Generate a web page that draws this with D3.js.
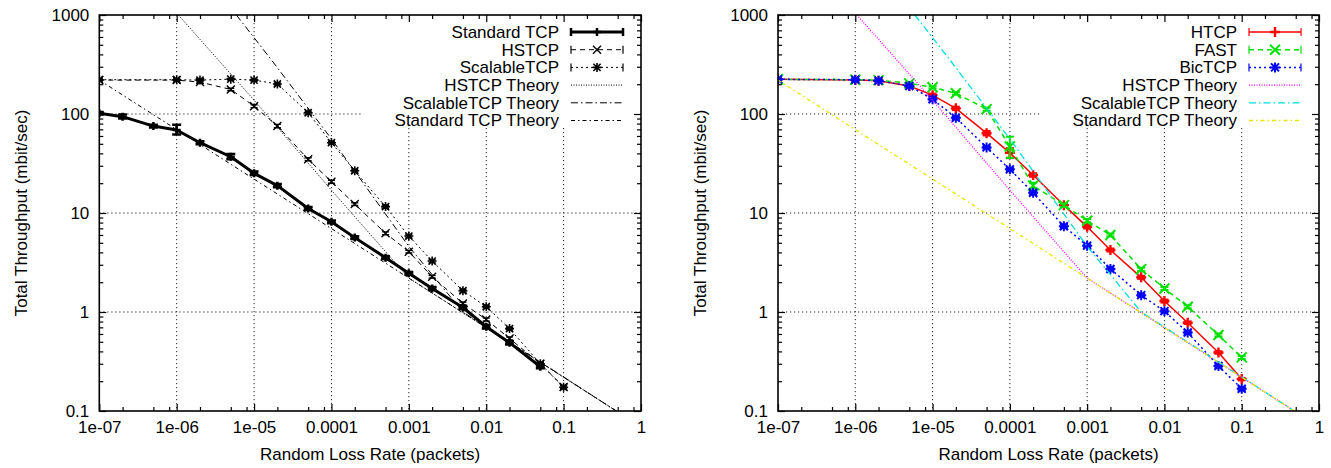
<!DOCTYPE html>
<html><head><meta charset="utf-8">
<script src="https://cdn.jsdelivr.net/npm/d3@7"></script>
<style>
body{margin:0;background:#fff;}
svg text{font-family:"Liberation Sans",Arial,Helvetica,sans-serif;fill:#000;}
</style></head><body>
<svg id="c" width="1331" height="468"></svg>
<script>
// ---------------- DATA ----------------
const xTickValues = [1e-7, 1e-6, 1e-5, 1e-4, 1e-3, 1e-2, 1e-1, 1];
const xTickLabels = ["1e-07", "1e-06", "1e-05", "0.0001", "0.001", "0.01", "0.1", "1"];
const yTickValues = [0.1, 1, 10, 100, 1000];
const yTickLabels = ["0.1", "1", "10", "100", "1000"];
const xMinorMult = [2, 5, 8];
const yMinorMult = [2, 3, 4, 5, 6, 7, 8, 9];

const xLabel = "Random Loss Rate (packets)";
const yLabel = "Total Throughput (mbit/sec)";

// left panel
const stdLoss = [1e-7, 2e-7, 5e-7, 1e-6, 2e-6, 5e-6, 1e-5, 2e-5, 5e-5, 1e-4, 2e-4, 5e-4, 1e-3, 2e-3, 5e-3, 1e-2, 2e-2, 5e-2];
const stdTcp   = [102, 94, 75.5, 69, 51.3, 37, 25.2, 18.9, 11.1, 8.15, 5.64, 3.54, 2.46, 1.73, 1.11, 0.71, 0.49, 0.28];
const stdTcpLo = [99, 90, 73, 62, 49.5, 35, 24.2, 18.2, 10.7, 7.9, 5.45, 3.42, 2.38, 1.67, 1.07, 0.68, 0.47, 0.27];
const stdTcpHi = [105, 99, 78, 78, 53, 39.5, 26.3, 19.6, 11.5, 8.4, 5.83, 3.66, 2.54, 1.79, 1.15, 0.74, 0.51, 0.29];

const hsLoss  = [1e-7, 1e-6, 2e-6, 5e-6, 1e-5, 2e-5, 5e-5, 1e-4, 2e-4, 5e-4, 1e-3, 2e-3, 5e-3, 1e-2, 2e-2, 5e-2, 1e-1];
const hstcp    = [220, 220, 210, 177, 120, 75.6, 34.9, 20.7, 12.3, 6.24, 4.07, 2.27, 1.22, 0.84, 0.54, 0.30, 0.175];
const hstcpErr = [5, 5, 5, 5, 4, 3, 1.2, 0.7, 0.4, 0.2, 0.12, 0.07, 0.04, 0.03, 0.02, 0.01, 0.006];
const scalable    = [222, 222, 220, 225, 220, 201, 103, 51.3, 26.7, 11.6, 5.85, 3.27, 1.64, 1.13, 0.68, 0.30, 0.174];
const scalableErr = [5, 5, 5, 5, 5, 5, 3, 1.5, 0.8, 0.4, 0.18, 0.1, 0.05, 0.03, 0.02, 0.01, 0.006];

// right panel
const rLoss = [1e-7, 1e-6, 2e-6, 5e-6, 1e-5, 2e-5, 5e-5, 1e-4, 2e-4, 5e-4, 1e-3, 2e-3, 5e-3, 1e-2, 2e-2, 5e-2, 1e-1];
const htcp    = [224, 220, 217, 192, 155, 114, 64, 40.5, 24.2, 12.0, 7.25, 4.23, 2.24, 1.29, 0.78, 0.39, 0.21];
const htcpLo  = [219, 215, 212, 187, 150, 110, 61, 36, 23.3, 11.6, 7.0, 4.1, 2.17, 1.25, 0.76, 0.38, 0.205];
const htcpHi  = [229, 225, 222, 197, 160, 118, 67, 45, 25.1, 12.4, 7.5, 4.36, 2.31, 1.33, 0.80, 0.40, 0.215];
const fast    = [224, 222, 220, 204, 186, 162, 112, 47, 18.9, 12.0, 8.36, 6.0, 2.7, 1.73, 1.13, 0.586, 0.348];
const fastLo  = [219, 217, 215, 199, 181, 157, 108, 36, 17.6, 11.5, 8.0, 5.8, 2.6, 1.67, 1.09, 0.566, 0.336];
const fastHi  = [229, 227, 225, 209, 191, 167, 116, 59, 20.2, 12.5, 8.7, 6.2, 2.8, 1.79, 1.17, 0.606, 0.36];
const bic     = [224, 222, 217, 192, 141, 91.8, 46, 27.6, 16.0, 7.35, 4.68, 2.72, 1.48, 1.02, 0.62, 0.285, 0.168];
const bicErr  = [5, 5, 5, 5, 4, 3, 1.5, 0.9, 0.6, 0.3, 0.15, 0.08, 0.05, 0.03, 0.02, 0.01, 0.006];

// theory curves
const stdTheoryLoss = [1e-7, 1e-3, 0.48];
const stdTheory     = [220, 2.2, 0.1];
const hsTheoryLoss  = [1.05e-6, 1e-5, 1e-4, 1e-3, 0.48];
const hsTheory      = [1000, 138, 17, 2.2, 0.1];
const scTheoryLoss  = [5.9e-6, 1.68e-5, 1e-4, 1e-3, 5e-3, 0.48];
const scTheory      = [1000, 351, 56, 4.6, 1.0, 0.1];

const leftNames  = ["Standard TCP", "HSTCP", "ScalableTCP", "HSTCP Theory", "ScalableTCP Theory", "Standard TCP Theory"];
const rightNames = ["HTCP", "FAST", "BicTCP", "HSTCP Theory", "ScalableTCP Theory", "Standard TCP Theory"];

// ---------------- BUILD SERIES ----------------
function zipPts(xs, ys, lo, hi) {
  return xs.map((v, i) => ({x: v, y: ys[i], lo: lo ? lo[i] : null, hi: hi ? hi[i] : null}));
}
function symErr(ys, e) { return [ys.map((v, i) => v - e[i]), ys.map((v, i) => v + e[i])]; }

const [hsLo, hsHi] = symErr(hstcp, hstcpErr);
const [scLo, scHi] = symErr(scalable, scalableErr);
const [bcLo, bcHi] = symErr(bic, bicErr);

const leftSeries = [
  {name: leftNames[0], pts: zipPts(stdLoss, stdTcp, stdTcpLo, stdTcpHi), color: "#000", w: 3, dash: null, marker: "plus", ms: 4, mw: 2.5, err: true, cap: 4.5},
  {name: leftNames[1], pts: zipPts(hsLoss, hstcp, hsLo, hsHi), color: "#000", w: 1, dash: "5,4", marker: "cross", ms: 4, mw: 1.4, err: true, cap: 3.5},
  {name: leftNames[2], pts: zipPts(hsLoss, scalable, scLo, scHi), color: "#000", w: 1, dash: "2,3", marker: "star", ms: 4.5, mw: 1.6, err: true, cap: 3.5},
  {name: leftNames[3], pts: zipPts(hsTheoryLoss, hsTheory), color: "#000", w: 1, dash: "1,1.5"},
  {name: leftNames[4], pts: zipPts(scTheoryLoss, scTheory), color: "#000", w: 1, dash: "7,3,1.5,3"},
  {name: leftNames[5], pts: zipPts(stdTheoryLoss, stdTheory), color: "#000", w: 1, dash: "4,3,1.5,3"}
];
const rightSeries = [
  {name: rightNames[0], pts: zipPts(rLoss, htcp, htcpLo, htcpHi), color: "#ff0000", w: 1.5, dash: null, marker: "plus", ms: 5, mw: 2.4, err: true, cap: 4},
  {name: rightNames[1], pts: zipPts(rLoss, fast, fastLo, fastHi), color: "#00e000", w: 1.5, dash: "5,4", marker: "cross", ms: 5, mw: 2, err: true, cap: 4},
  {name: rightNames[2], pts: zipPts(rLoss, bic, bcLo, bcHi), color: "#0000ff", w: 1.5, dash: "2,3", marker: "star", ms: 5, mw: 2, err: true, cap: 4},
  {name: rightNames[3], pts: zipPts(hsTheoryLoss, hsTheory), color: "#ff00ff", w: 1.3, dash: "1,1.5"},
  {name: rightNames[4], pts: zipPts(scTheoryLoss, scTheory), color: "#00dede", w: 1.3, dash: "7,3,1.5,3"},
  {name: rightNames[5], pts: zipPts(stdTheoryLoss, stdTheory), color: "#e6e600", w: 1.3, dash: "4,3,1.5,3"}
];

// ---------------- DRAW ----------------
const svg = d3.select("#c");
const TOP = 15, BOTTOM = 411, FONT = 17;

function markerPath(type, cx, cy, s) {
  const p = d3.path();
  if (type === "plus" || type === "star") {
    p.moveTo(cx - s, cy); p.lineTo(cx + s, cy);
    p.moveTo(cx, cy - s); p.lineTo(cx, cy + s);
  }
  if (type === "cross" || type === "star") {
    const t = type === "star" ? s * 0.8 : s;
    p.moveTo(cx - t, cy - t); p.lineTo(cx + t, cy + t);
    p.moveTo(cx - t, cy + t); p.lineTo(cx + t, cy - t);
  }
  return p.toString();
}

function drawPanel(id, left, right, series) {
  const x = d3.scaleLog().domain([1e-7, 1]).range([left, right]);
  const y = d3.scaleLog().domain([0.1, 1000]).range([BOTTOM, TOP]);
  const g = svg.append("g");

  svg.append("clipPath").attr("id", "clip" + id)
    .append("rect").attr("x", left).attr("y", TOP).attr("width", right - left).attr("height", BOTTOM - TOP);

  // grid (leaving the key area free)
  const boxL = right - 279, boxB = 128;
  const grid = g.append("g").attr("stroke", "#222").attr("stroke-width", 1).attr("stroke-dasharray", "1.2,2.8");
  xTickValues.slice(1, -1).forEach(v => {
    const px = x(v);
    grid.append("line").attr("x1", px).attr("x2", px).attr("y1", px > boxL ? boxB : TOP).attr("y2", BOTTOM);
  });
  yTickValues.slice(1, -1).forEach(v => {
    const py = y(v);
    grid.append("line").attr("x1", left).attr("x2", py < boxB ? boxL : right).attr("y1", py).attr("y2", py);
  });

  // minor tick values
  const xMinor = [];
  xTickValues.slice(0, -1).forEach(d => xMinorMult.forEach(m => xMinor.push(d * m)));
  const yMinor = [];
  yTickValues.slice(0, -1).forEach(d => yMinorMult.forEach(m => yMinor.push(d * m)));

  const styleAxis = sel => {
    sel.select(".domain").remove();
    sel.selectAll(".tick line").attr("stroke", "#000").attr("stroke-width", 1.2);
    sel.selectAll("text").attr("font-size", FONT).attr("font-family", null).attr("fill", "#000");
  };

  // major axes with labels
  g.append("g").attr("transform", `translate(0,${BOTTOM})`)
    .call(d3.axisBottom(x).tickValues(xTickValues).tickFormat(d => xTickLabels[xTickValues.indexOf(d)])
      .tickSizeInner(-7).tickSizeOuter(0).tickPadding(10))
    .call(styleAxis);
  g.append("g").attr("transform", `translate(${left},0)`)
    .call(d3.axisLeft(y).tickValues(yTickValues).tickFormat(d => yTickLabels[yTickValues.indexOf(d)])
      .tickSizeInner(-7).tickSizeOuter(0).tickPadding(10))
    .call(styleAxis);
  // mirrored
  g.append("g").attr("transform", `translate(0,${TOP})`)
    .call(d3.axisTop(x).tickValues(xTickValues).tickFormat("").tickSizeInner(-7).tickSizeOuter(0))
    .call(styleAxis);
  g.append("g").attr("transform", `translate(${right},0)`)
    .call(d3.axisRight(y).tickValues(yTickValues).tickFormat("").tickSizeInner(-7).tickSizeOuter(0))
    .call(styleAxis);
  // minor
  g.append("g").attr("transform", `translate(0,${BOTTOM})`)
    .call(d3.axisBottom(x).tickValues(xMinor).tickFormat("").tickSizeInner(-4).tickSizeOuter(0)).call(styleAxis);
  g.append("g").attr("transform", `translate(0,${TOP})`)
    .call(d3.axisTop(x).tickValues(xMinor).tickFormat("").tickSizeInner(-4).tickSizeOuter(0)).call(styleAxis);
  g.append("g").attr("transform", `translate(${left},0)`)
    .call(d3.axisLeft(y).tickValues(yMinor).tickFormat("").tickSizeInner(-4).tickSizeOuter(0)).call(styleAxis);
  g.append("g").attr("transform", `translate(${right},0)`)
    .call(d3.axisRight(y).tickValues(yMinor).tickFormat("").tickSizeInner(-4).tickSizeOuter(0)).call(styleAxis);

  // series
  const plot = g.append("g").attr("clip-path", `url(#clip${id})`);
  const line = d3.line().x(d => x(d.x)).y(d => y(d.y));
  series.forEach(s => {
    plot.append("path").attr("d", line(s.pts)).attr("fill", "none")
      .attr("stroke", s.color).attr("stroke-width", s.w)
      .attr("stroke-dasharray", s.dash).attr("stroke-linejoin", "round");
    if (s.err) {
      const eg = plot.append("g").attr("stroke", s.color).attr("stroke-width", s.mw);
      s.pts.forEach(d => {
        const px = x(d.x), y1 = y(d.lo), y2 = y(d.hi);
        eg.append("line").attr("x1", px).attr("x2", px).attr("y1", y1).attr("y2", y2);
        eg.append("line").attr("x1", px - s.cap).attr("x2", px + s.cap).attr("y1", y1).attr("y2", y1);
        eg.append("line").attr("x1", px - s.cap).attr("x2", px + s.cap).attr("y1", y2).attr("y2", y2);
      });
    }
    if (s.marker) {
      plot.append("g").selectAll("path").data(s.pts).join("path")
        .attr("d", d => markerPath(s.marker, x(d.x), y(d.y), s.ms))
        .attr("fill", "none").attr("stroke", s.color).attr("stroke-width", s.mw);
    }
  });

  // key
  const key = g.append("g");
  const textX = right - 82, sx1 = right - 70, sx2 = right - 18;
  series.forEach((s, i) => {
    const ry = 32 + i * 17.7;
    key.append("text").attr("x", textX).attr("y", ry).attr("dy", "0.35em")
      .attr("text-anchor", "end").attr("font-size", FONT).text(s.name);
    key.append("line").attr("x1", sx1).attr("x2", sx2).attr("y1", ry).attr("y2", ry)
      .attr("stroke", s.color).attr("stroke-width", s.w).attr("stroke-dasharray", s.dash);
    if (s.err) {
      [sx1, sx2].forEach(cx => key.append("line").attr("x1", cx).attr("x2", cx)
        .attr("y1", ry - 4).attr("y2", ry + 4).attr("stroke", s.color).attr("stroke-width", s.w > 2 ? 2.5 : 1.2));
      key.append("path").attr("d", markerPath(s.marker, (sx1 + sx2) / 2, ry, s.ms))
        .attr("fill", "none").attr("stroke", s.color).attr("stroke-width", s.mw);
    }
  });

  // frame
  g.append("rect").attr("x", left).attr("y", TOP).attr("width", right - left).attr("height", BOTTOM - TOP)
    .attr("fill", "none").attr("stroke", "#000").attr("stroke-width", 1.6);

  // axis titles
  g.append("text").attr("x", (left + right) / 2).attr("y", 460).attr("text-anchor", "middle")
    .attr("font-size", FONT).text(xLabel);
  g.append("text").attr("transform", `translate(${left - 72},${(TOP + BOTTOM) / 2}) rotate(-90)`)
    .attr("text-anchor", "middle").attr("font-size", FONT).text(yLabel);
}

drawPanel("L", 99.3, 641, leftSeries);
drawPanel("R", 778, 1319, rightSeries);
</script>
</body></html>
